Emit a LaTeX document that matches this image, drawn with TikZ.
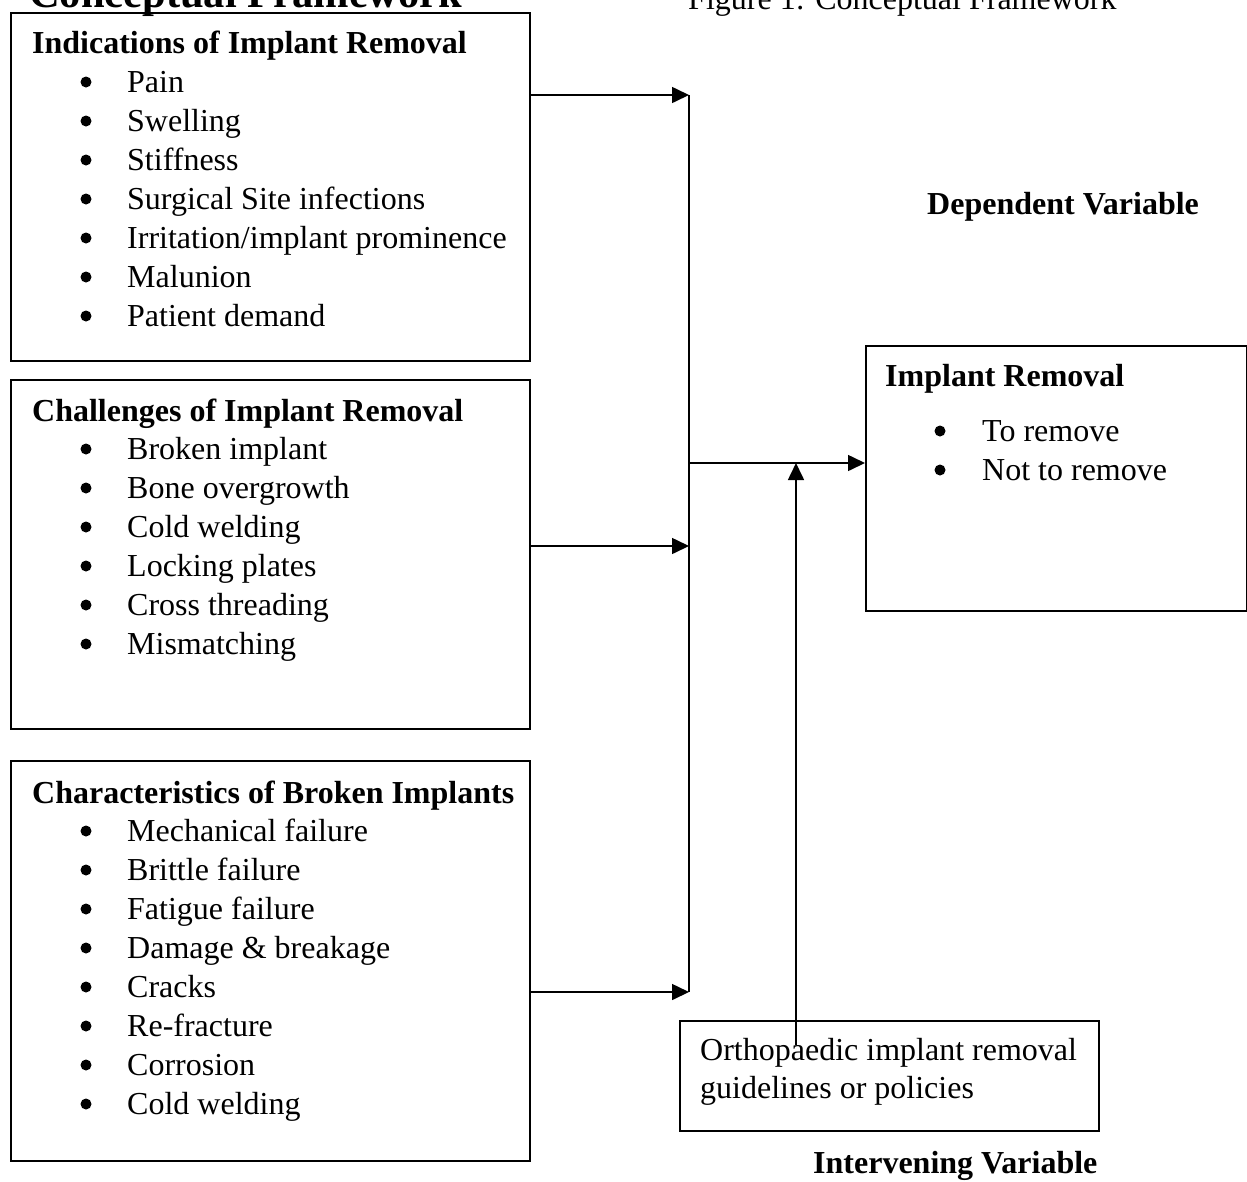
\documentclass[tikz,border=0pt]{standalone}
\usepackage{fontspec}
\setmainfont{Liberation Serif}
\usetikzlibrary{arrows.meta}

\tikzset{
  frame/.style={draw, line width=1.6pt, inner sep=0pt, anchor=north west},
  head/.style={font=\bfseries\fontsize{32}{39}\selectfont, anchor=base west, inner sep=0pt},
  item/.style={font=\fontsize{32}{39}\selectfont, anchor=base west, inner sep=0pt},
  arr/.style={line width=1.6pt, -{Triangle[length=17pt,width=16pt]}},
  link/.style={line width=1.6pt},
}

\begin{document}
\begin{tikzpicture}[x=1pt, y=-1pt]

    \clip (0,0) rectangle (1247,1181);

    % 見出し
    \node[head, font=\bfseries\fontsize{42.5}{46}\selectfont] (ctitle) at (29,7) {Conceptual Framework};
    \node[item] (figcap) at (688,9) {Figure 1: Conceptual Framework};
    \node[head] (deplabel) at (927,214) {Dependent Variable};
    \node[head] (intlabel) at (813,1173) {Intervening Variable};

    % 枠
    \node[frame, minimum width=519pt, minimum height=348pt] (indbox) at (10,12) {};
    \node[frame, minimum width=519pt, minimum height=349pt] (chalbox) at (10,379) {};
    \node[frame, minimum width=519pt, minimum height=400pt] (charbox) at (10,760) {};
    \node[frame, minimum width=381pt, minimum height=265pt] (outbox) at (865,345) {};
    \node[frame, minimum width=419pt, minimum height=110pt] (guidebox) at (679,1020) {};

    % 左の三つの箱
    \node[head] (indhead) at (32,53) {Indications of Implant Removal};
    \foreach \t [count=\i] in {Pain, Swelling, Stiffness, Surgical Site infections,
        Irritation/implant prominence, Malunion, Patient demand} {
        \pgfmathsetmacro{\yb}{92+39*(\i-1)}
        \fill (86,\yb-10) circle (5.5pt);
        \node[item] (ind\i) at (127,\yb) {\t};
    }

    \node[head] (chalhead) at (32,421) {Challenges of Implant Removal};
    \foreach \t [count=\i] in {Broken implant, Bone overgrowth, Cold welding,
        Locking plates, Cross threading, Mismatching} {
        \pgfmathsetmacro{\yb}{459+39*(\i-1)}
        \fill (86,\yb-10) circle (5.5pt);
        \node[item] (chal\i) at (127,\yb) {\t};
    }

    \node[head] (charhead) at (32,803) {Characteristics of Broken Implants};
    \foreach \t [count=\i] in {Mechanical failure, Brittle failure, Fatigue failure,
        Damage \& breakage, Cracks, Re-fracture, Corrosion, Cold welding} {
        \pgfmathsetmacro{\yb}{841+39*(\i-1)}
        \fill (86,\yb-10) circle (5.5pt);
        \node[item] (char\i) at (127,\yb) {\t};
    }

    % 右の箱
    \node[head] (outhead) at (885,386) {Implant Removal};
    \foreach \t [count=\i] in {To remove, Not to remove} {
        \pgfmathsetmacro{\yb}{441+39*(\i-1)}
        \fill (940,\yb-10) circle (5.5pt);
        \node[item] (out\i) at (982,\yb) {\t};
    }

    % 下の箱
    \node[item] (guide1) at (700,1060) {Orthopaedic implant removal};
    \node[item] (guide2) at (700,1098) {guidelines or policies};

    % 矢印
    \coordinate (jtop) at (689,95);
    \coordinate (jmid) at (689,546);
    \coordinate (jbot) at (689,992);
    \coordinate (jout) at (689,463);
    \coordinate (gtail) at (796,1045);

    \draw[arr] (indbox.east |- jtop) -- (jtop);
    \draw[arr] (chalbox.east |- jmid) -- (jmid);
    \draw[arr] (charbox.east |- jbot) -- (jbot);
    \draw[link] (jtop) -- (jbot);
    \draw[arr] (jout) -- (outbox.west |- jout);
    \draw[arr] (gtail) -- (gtail |- jout);

\end{tikzpicture}
\end{document}
